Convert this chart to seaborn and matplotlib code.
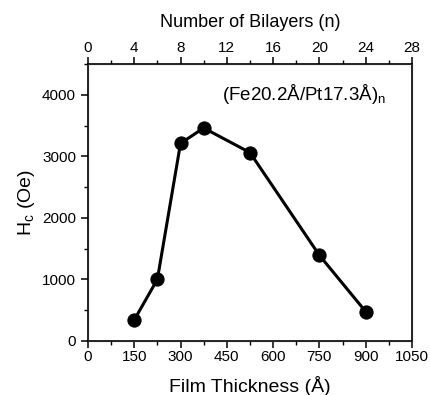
import matplotlib
matplotlib.use("Agg")
import matplotlib.pyplot as plt
from matplotlib.ticker import MultipleLocator
import seaborn as sns
import pandas as pd

# Values
thickness = [150, 225, 300, 375, 525, 750, 900]   # film thickness (Å)
hc = [340, 1000, 3210, 3460, 3060, 1390, 475]      # coercivity (Oe)
x_ticks = [0, 150, 300, 450, 600, 750, 900, 1050]
y_ticks = [0, 1000, 2000, 3000, 4000]
bilayer_ticks = [0, 4, 8, 12, 16, 20, 24, 28]

sns.set_style("ticks")
plt.rcParams["font.family"] = ["Liberation Sans", "DejaVu Sans"]
plt.rcParams["text.color"] = "black"
plt.rcParams["axes.labelcolor"] = "black"

df = pd.DataFrame({"thickness": thickness, "hc": hc})

fig = plt.figure(figsize=(4.31, 3.95), dpi=100)
ax = fig.add_axes([0.204, 0.137, 0.752, 0.701])

sns.lineplot(data=df, x="thickness", y="hc", ax=ax, color="black",
             marker="o", markersize=9.5, linewidth=2.2,
             markeredgecolor="black", markerfacecolor="black")

ax.set_xlim(0, 1050)
ax.set_ylim(0, 4500)
ax.set_xticks(x_ticks)
ax.set_yticks(y_ticks)
ax.xaxis.set_minor_locator(MultipleLocator(75))
ax.yaxis.set_minor_locator(MultipleLocator(500))
ax.tick_params(axis="both", which="major", direction="out", length=5, width=1.1,
               labelsize=11, colors="black")
ax.tick_params(axis="x", which="major", pad=1.5)
ax.tick_params(axis="both", which="minor", direction="out", length=3, width=1,
               colors="black")
ax.set_xlabel("Film Thickness (Å)", fontsize=14, labelpad=9)
ax.set_ylabel("H$_\\mathregular{c}$ (Oe)", fontsize=14, labelpad=4)

for s in ax.spines.values():
    s.set_visible(True)
    s.set_linewidth(1.2)
    s.set_color("black")

# top axis with number of bilayers
top = ax.twiny()
top.set_xlim(0, 28)
top.set_xticks(bilayer_ticks)
top.xaxis.set_minor_locator(MultipleLocator(2))
top.tick_params(axis="x", which="major", direction="out", length=5, width=1.1,
                labelsize=11, colors="black", pad=1.5)
top.tick_params(axis="x", which="minor", direction="out", length=3, width=1,
                colors="black")
top.set_xlabel("Number of Bilayers (n)", fontsize=13, labelpad=10)

ax.text(434, 4016, "(Fe20.2Å/Pt17.3Å)$_\\mathregular{n}$", fontsize=13.5,
        ha="left", va="center")

fig.savefig("out.png", dpi=100)
